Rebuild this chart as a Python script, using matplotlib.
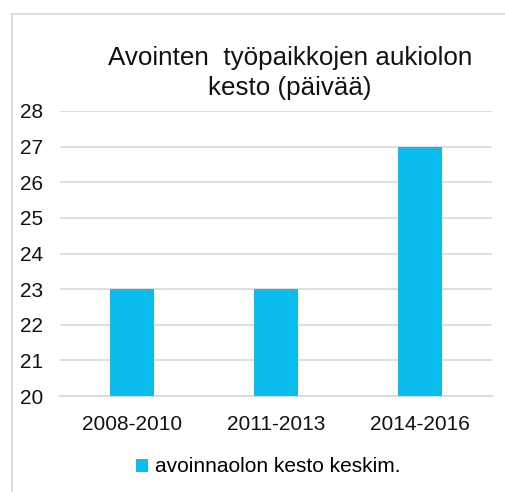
import matplotlib

matplotlib.use("Agg")
import matplotlib.pyplot as plt
from matplotlib.patches import Rectangle

# ---------------------------------------------------------------------------
# Data
# ---------------------------------------------------------------------------
periods = ["2008-2010", "2011-2013", "2014-2016"]
days = [23, 23, 27]
series_name = "avoinnaolon kesto keskim."
title = "Avointen  työpaikkojen aukiolon\nkesto (päivää)"
y_ticks = [20, 21, 22, 23, 24, 25, 26, 27, 28]

BAR_COLOR = "#0bbcef"
GRID_COLOR = "#d9d9d9"

plt.rcParams["font.family"] = ["Liberation Sans", "DejaVu Sans"]

W, H = 506, 492
fig = plt.figure(figsize=(W / 100, H / 100), dpi=100)

# outer chart border (extends past right/bottom edge)
fig.add_artist(Rectangle((12 / W, -0.1), 1.2, 1 - 14 / H + 0.1,
                         transform=fig.transFigure, fill=False,
                         edgecolor=GRID_COLOR, lw=1.2))

ax = fig.add_axes([60 / W, 1 - 396 / H, (492 - 60) / W, (396 - 111) / H])
x = range(len(periods))
ax.bar(x, [d - 20 for d in days], bottom=20, width=0.306, color=BAR_COLOR,
       zorder=3, label=series_name)
ax.set_xlim(-0.5, len(periods) - 0.5)
ax.set_ylim(y_ticks[0], y_ticks[-1])
ax.set_yticks(y_ticks)
ax.set_xticks(list(x))
ax.set_xticklabels(periods)
ax.tick_params(axis="both", length=0, labelsize=15, colors="#111111")
ax.tick_params(axis="y", pad=12)
ax.tick_params(axis="x", pad=14)
ax.yaxis.grid(True, color=GRID_COLOR, lw=1.2, zorder=0)
for s in ["top", "right", "left"]:
    ax.spines[s].set_visible(False)
ax.spines["bottom"].set_color(GRID_COLOR)
ax.spines["bottom"].set_linewidth(1.2)

fig.text(290 / W, 1 - 73 / H, title, ha="center", va="center",
         fontsize=18.7, color="#111111", linespacing=1.27)

fig.legend(loc="center", bbox_to_anchor=(268 / W, 1 - 467 / H), frameon=False,
           fontsize=15, handlelength=0.6, handleheight=0.6,
           handletextpad=0.3)

fig.savefig("out.png", dpi=100)
